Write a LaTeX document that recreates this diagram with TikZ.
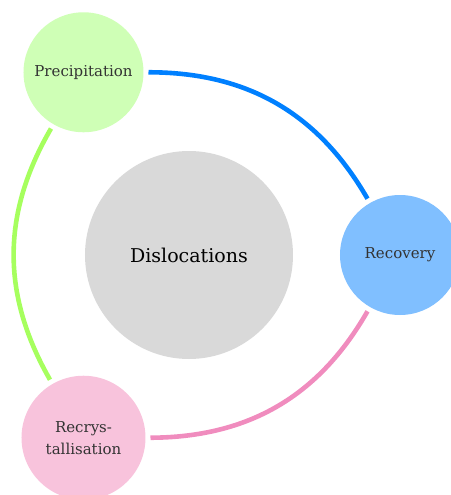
\documentclass[tikz,border=0pt]{standalone}
\usepackage{fontspec}
\setmainfont{DejaVu Serif}
\usepackage{xcolor}
\definecolor{prec-fill}{HTML}{CFFFB6}
\definecolor{rec-fill}{HTML}{80BFFF}
\definecolor{recr-fill}{HTML}{F8C3DC}
\definecolor{disl-fill}{HTML}{D9D9D9}
\definecolor{prec-line}{HTML}{A6FF5E}
\definecolor{rec-line}{HTML}{0080FF}
\definecolor{recr-line}{HTML}{F08CBE}

\begin{document}
\begin{tikzpicture}[
        every node/.style={font=\fontsize{7.5}{11}\selectfont, text=black!80},
        stage/.style={circle, minimum size=60pt, inner sep=0pt, outer sep=2.5pt,
          align=center},
        link/.style={line width=2.3pt}]
      \useasboundingbox (-94.5pt,-120pt) rectangle (131pt,127.5pt);
      % the centre and the three processes round it
      \node[circle, fill=disl-fill, minimum size=104pt,
        font=\fontsize{9.5}{11}\selectfont, text=black] (disl) at (0,0) {Dislocations};
      \node[stage, fill=prec-fill] (prec) at (120:105.5pt) {Precipitation};
      \node[stage, fill=rec-fill] (rec) at (0:105.5pt) {Recovery};
      \node[stage, fill=recr-fill, minimum size=62pt] (recr) at (240:105.5pt)
        {Recrys-\\tallisation};
      % the cycle
      \draw[link, rec-line] (prec) to[bend left] (rec);
      \draw[link, recr-line] (rec) to[bend left] (recr);
      \draw[link, prec-line] (recr) to[bend left] (prec);
    \end{tikzpicture}
\end{document}
